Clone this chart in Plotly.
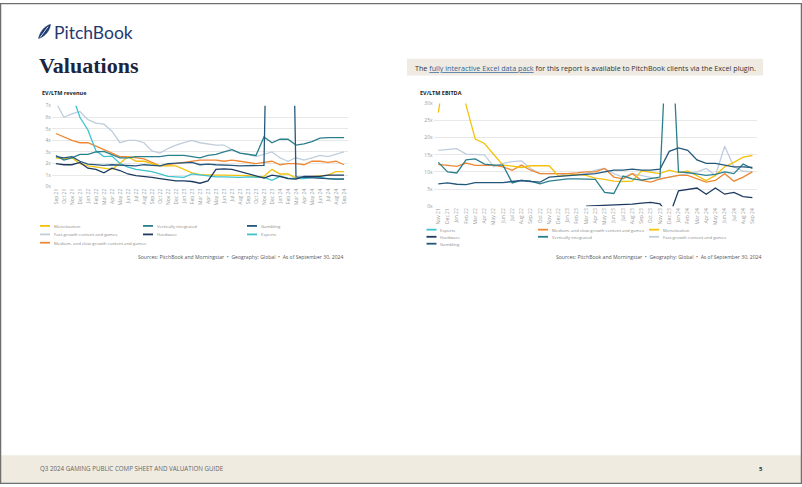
import plotly.graph_objects as go

W, H = 802, 487
def px(x): return x / W
def py(y): return 1 - y / H

# ---------------- data ----------------
left_months = ["Sep 21","Oct 21","Nov 21","Dec 21","Jan 22","Feb 22","Mar 22","Apr 22","May 22",
               "Jun 22","Jul 22","Aug 22","Sep 22","Oct 22","Nov 22","Dec 22","Jan 23","Feb 23",
               "Mar 23","Apr 23","May 23","Jun 23","Jul 23","Aug 23","Sep 23","Oct 23","Nov 23",
               "Dec 23","Jan 24","Feb 24","Mar 24","Apr 24","May 24","Jun 24","Jul 24","Aug 24","Sep 24"]
right_months = ["Nov 21","Dec 21","Jan 22","Feb 22","Mar 22","Apr 22","May 22",
                "Jun 22","Jul 22","Aug 22","Sep 22","Oct 22","Nov 22","Dec 22","Jan 23","Feb 23",
                "Mar 23","Apr 23","May 23","Jun 23","Jul 23","Aug 23","Sep 23","Oct 23","Nov 23",
                "Dec 23","Jan 24","Feb 24","Mar 24","Apr 24","May 24","Jun 24","Jul 24","Aug 24","Sep 24"]

# EV/LTM revenue
rev_monetization = [2.5,2.4,2.5,2.0,1.8,1.7,1.6,1.5,2.0,2.6,2.2,2.2,2.0,1.8,1.8,1.8,1.5,1.2,1.05,1.0,
                    1.0,1.0,1.0,1.0,0.95,0.85,0.9,1.5,1.1,1.1,0.75,0.8,0.85,0.9,1.0,1.3,1.3]
rev_fastgrowth = [7.3,6.0,6.3,6.5,5.8,5.5,5.4,4.8,3.8,4.0,4.0,3.8,3.1,2.9,3.3,3.6,3.8,4.0,3.8,3.7,
                  3.6,3.6,3.2,2.9,2.8,2.6,2.8,3.0,2.5,2.2,2.5,2.3,2.5,2.7,2.6,2.8,3.0]
rev_medium = [4.6,4.3,4.0,3.8,3.8,3.5,3.2,2.9,2.6,2.6,2.5,2.4,2.1,1.8,1.9,2.0,2.1,2.2,2.3,2.3,
              2.3,2.2,2.3,2.2,2.1,2.0,2.1,2.2,1.9,2.0,2.0,1.9,2.2,2.2,2.1,2.2,1.9]
rev_vertical = [2.7,2.3,2.5,2.8,2.8,3.0,3.05,2.8,2.5,2.5,2.6,2.6,2.6,2.6,2.7,2.7,2.7,2.6,2.5,2.7,
                2.8,3.0,3.2,2.9,2.8,2.7,4.3,3.8,4.1,4.1,3.6,3.7,3.9,4.2,4.25,4.25,4.25]
rev_hardware = [2.0,1.9,1.9,2.1,1.6,1.5,1.2,1.6,1.4,1.1,0.95,0.9,0.8,0.7,0.6,0.5,0.5,0.45,0.3,0.5,
                1.5,1.55,1.5,1.3,1.1,0.9,0.75,1.0,0.9,0.7,0.65,0.9,0.9,0.9,1.0,1.0,1.0]
rev_gambling = [2.6,2.5,2.6,2.2,1.95,1.9,1.85,1.9,1.85,1.8,1.8,1.9,1.85,1.8,2.0,2.05,2.1,2.1,1.9,1.95,
                1.9,1.9,1.85,1.8,1.8,1.8,1.85,40,40,40,0.85,0.8,0.75,0.75,0.7,0.65,0.65]
rev_esports = [9.5,9.0,8.0,6.0,4.9,3.1,2.6,2.65,2.0,1.7,1.5,1.4,1.3,1.1,0.9,0.85,0.8,1.1,1.0,0.9,
               0.85,0.85,0.8,0.8,0.85,0.8,0.8,0.55,0.9,0.75,0.7,0.7,0.8,0.8,0.7,0.65,0.7]

# EV/LTM EBITDA
eb_monetization = [27.3,45,45,29.5,19.6,18.3,15.1,12.0,11.7,11.3,11.8,11.8,11.8,8.8,9.0,9.3,9.0,8.2,
                   7.8,7.3,7.2,7.3,10.3,10.0,9.5,10.5,9.8,10.3,8.8,7.5,9.0,11.5,12.8,14.3,14.8]
eb_fastgrowth = [16.3,16.6,16.8,15.2,15.0,15.0,11.5,12.5,13.0,13.2,11.0,9.5,9.5,9.5,9.0,9.2,9.5,10.5,
                 11.0,9.5,8.5,9.5,9.0,8.5,7.8,8.5,9.0,9.5,10.0,11.0,9.0,17.5,11.5,10.2,10.0]
eb_medium = [12.2,12.0,11.6,12.6,11.9,11.9,12.0,11.5,10.5,12.0,10.5,9.5,9.5,9.3,9.5,9.7,10.0,10.0,
             11.0,8.5,8.0,9.5,7.5,7.0,8.0,8.5,9.0,9.0,8.0,7.0,7.5,9.5,7.3,8.5,10.0]
eb_vertical = [12.8,10.0,9.7,13.5,13.8,12.3,12.0,12.0,6.8,7.5,7.3,6.5,7.3,7.7,8.0,8.0,8.0,7.8,
               4.0,3.7,8.8,8.0,7.6,8.0,8.5,66,10.0,9.8,9.3,9.0,9.3,10.0,9.5,12.3,11.0]
eb_gambling = [6.5,6.8,6.4,6.3,6.9,6.9,7.1,6.9,7.2,7.5,7.2,7.0,8.5,8.7,8.8,9.0,9.2,9.5,
               10.0,10.5,10.5,10.8,10.5,10.5,10.8,16.0,17.0,16.3,13.5,12.5,12.5,12.0,11.5,11.5,11.3]
eb_hardware = [None,None,None,None,None,None,None,None,None,None,None,None,None,None,None,None,
               0.0,0.1,0.1,0.2,0.3,0.6,0.9,1.1,0.7,-3,4.5,5.0,5.3,3.5,5.3,3.5,4.0,2.8,2.5]

# ---------------- styles ----------------
C_MON = "#f4c20d"
C_FAST = "#bfcddd"
C_MED = "#ee8833"
C_VERT = "#2a7f8c"
C_HARD = "#1d3a5f"
C_GAMB = "#25577b"
C_ESP = "#3cc3cf"
FONT = "Open Sans"
TICK = dict(family=FONT, size=5, color="#9a9a9a")

fig = go.Figure()

left_series = [
    ("Fast-growth content and games", rev_fastgrowth, C_FAST),
    ("Medium- and slow-growth content and games", rev_medium, C_MED),
    ("Monetization", rev_monetization, C_MON),
    ("Esports", rev_esports, C_ESP),
    ("Vertically integrated", rev_vertical, C_VERT),
    ("Hardware", rev_hardware, C_HARD),
    ("Gambling", rev_gambling, C_GAMB),
]
for name, vals, col in left_series:
    fig.add_trace(go.Scatter(x=left_months, y=vals, mode="lines", name=name,
                             line=dict(color=col, width=1.3), showlegend=False,
                             xaxis="x", yaxis="y"))

right_series = [
    ("Fast-growth content and games", eb_fastgrowth, C_FAST),
    ("Medium- and slow-growth content and games", eb_medium, C_MED),
    ("Monetization", eb_monetization, C_MON),
    ("Hardware", eb_hardware, C_HARD),
    ("Vertically integrated", eb_vertical, C_VERT),
    ("Gambling", eb_gambling, C_GAMB),
]
for name, vals, col in right_series:
    fig.add_trace(go.Scatter(x=right_months, y=vals, mode="lines", name=name,
                             line=dict(color=col, width=1.3), showlegend=False,
                             xaxis="x2", yaxis="y2"))

axis_common_x = dict(type="category", tickangle=-90, tickfont=TICK, showgrid=False,
                     zeroline=False, showline=False, ticks="")
axis_common_y = dict(tickfont=TICK, ticksuffix="x", gridcolor="#e8e8e8", gridwidth=0.6,
                     zeroline=False, showline=False, ticks="")

shapes = []
annotations = []

# page background pieces
shapes.append(dict(type="rect", xref="paper", yref="paper", x0=0, x1=1, y0=0, y1=py(458),
                   fillcolor="#efebe1", line=dict(width=0), layer="below"))
shapes.append(dict(type="rect", xref="paper", yref="paper", x0=px(407), x1=px(763),
                   y0=py(73.5), y1=py(56.5), fillcolor="#efebe3", line=dict(width=0), layer="below"))
shapes.append(dict(type="rect", xref="paper", yref="paper", x0=px(0.6), x1=px(801.4),
                   y0=py(486.4), y1=py(0.6), line=dict(color="#6f6f6f", width=1.3)))

# logo feather
feather = ("M {a},{b} C {c},{d} {e},{f} {g},{h} C {i},{j} {k},{l} {a},{b} Z").format(
    a=px(38.5), b=py(36), c=px(40), d=py(29), e=px(44), f=py(24), g=px(50.5), h=py(21.5),
    i=px(50), j=py(28), k=px(45), l=py(34))
shapes.append(dict(type="path", xref="paper", yref="paper", path=feather,
                   fillcolor="#1f3a70", line=dict(color="#1f3a70", width=0.5)))
vein = "M {a},{b} L {c},{d}".format(a=px(40), b=py(35), c=px(48), d=py(24))
shapes.append(dict(type="path", xref="paper", yref="paper", path=vein,
                   line=dict(color="white", width=0.8)))

annotations.append(dict(text="PitchBook", x=px(51.5), y=py(29.5), xref="paper", yref="paper",
                        xanchor="left", yanchor="middle", showarrow=False,
                        font=dict(family="Lato", size=17.5, color="#1f3a70")))
annotations.append(dict(text="<b>Valuations</b>", x=px(37), y=py(63.5), xref="paper", yref="paper",
                        xanchor="left", yanchor="middle", showarrow=False,
                        font=dict(family="Liberation Serif", size=22, color="#1b2541")))
annotations.append(dict(
    text='The <span style="color:#2f6496"><u>fully interactive Excel data pack</u></span> for this report is available to PitchBook clients via the Excel plugin.',
    x=px(413), y=py(65.5), xref="paper", yref="paper", xanchor="left", yanchor="middle",
    showarrow=False, font=dict(family=FONT, size=7.2, color="#333333")))

# chart titles
annotations.append(dict(text="<b>EV/LTM revenue</b>", x=px(39.5), y=py(91), xref="paper", yref="paper",
                        xanchor="left", yanchor="middle", showarrow=False,
                        font=dict(family=FONT, size=5.5, color="#222222")))
annotations.append(dict(text="<b>EV/LTM EBITDA</b>", x=px(417.5), y=py(91), xref="paper", yref="paper",
                        xanchor="left", yanchor="middle", showarrow=False,
                        font=dict(family=FONT, size=5.5, color="#222222")))

# legends
def legend(entries, cols, rows, size):
    for name, col, ci, ri in entries:
        x0 = cols[ci]
        y = rows[ri]
        shapes.append(dict(type="line", xref="paper", yref="paper", x0=px(x0), x1=px(x0 + 10),
                           y0=py(y), y1=py(y), line=dict(color=col, width=1.8)))
        annotations.append(dict(text=name, x=px(x0 + 11.5), y=py(y), xref="paper", yref="paper",
                                xanchor="left", yanchor="middle", showarrow=False,
                                font=dict(family=FONT, size=size, color="#8a8a8a")))

legend([("Monetization", C_MON, 0, 0), ("Fast-growth content and games", C_FAST, 0, 1),
        ("Medium- and slow-growth content and games", C_MED, 0, 2),
        ("Vertically integrated", C_VERT, 1, 0), ("Hardware", C_HARD, 1, 1),
        ("Gambling", C_GAMB, 2, 0), ("Esports", C_ESP, 2, 1)],
       [40, 143, 247], [225.7, 234.3, 242.7], 4.3)
legend([("Esports", C_ESP, 0, 0), ("Hardware", C_HARD, 0, 1), ("Gambling", C_GAMB, 0, 2),
        ("Medium- and slow-growth content and games", C_MED, 1, 0),
        ("Vertically integrated", C_VERT, 1, 1),
        ("Monetization", C_MON, 2, 0), ("Fast-growth content and games", C_FAST, 2, 1)],
       [426.5, 538, 649], [229.5, 236.7, 243.7], 4.3)

src = "Sources: PitchBook and Morningstar  \u2022  Geography: Global  \u2022  As of September 30, 2024"
annotations.append(dict(text=src, x=px(345), y=py(257.3), xref="paper", yref="paper",
                        xanchor="right", yanchor="middle", showarrow=False,
                        font=dict(family=FONT, size=5.1, color="#555555")))
annotations.append(dict(text=src, x=px(763), y=py(257.3), xref="paper", yref="paper",
                        xanchor="right", yanchor="middle", showarrow=False,
                        font=dict(family=FONT, size=5.1, color="#555555")))

# footer
annotations.append(dict(text="Q3 2024 GAMING PUBLIC COMP SHEET AND VALUATION GUIDE", x=px(37.5), y=py(471.5),
                        xref="paper", yref="paper", xanchor="left", yanchor="middle", showarrow=False,
                        font=dict(family=FONT, size=6.2, color="#666666")))
annotations.append(dict(text="<b>5</b>", x=px(761), y=py(471.5), xref="paper", yref="paper",
                        xanchor="center", yanchor="middle", showarrow=False,
                        font=dict(family=FONT, size=6, color="#333333")))

fig.update_layout(
    width=W, height=H, margin=dict(l=0, r=0, t=0, b=0),
    paper_bgcolor="white", plot_bgcolor="white", showlegend=False,
    font=dict(family=FONT),
    xaxis=dict(domain=[px(51.9), px(348)], range=[-0.5, 36.5], anchor="y", **axis_common_x),
    yaxis=dict(domain=[py(186), py(104)], range=[0, 7], dtick=1, anchor="x", **axis_common_y),
    xaxis2=dict(domain=[px(433.7), px(757)], range=[-0.5, 34.5], anchor="y2", **axis_common_x),
    yaxis2=dict(domain=[py(205.7), py(101.7)], range=[0, 30], dtick=5, anchor="x2", **axis_common_y),
    shapes=shapes, annotations=annotations,
)

fig.write_html("out.html", config={"displayModeBar": False})
